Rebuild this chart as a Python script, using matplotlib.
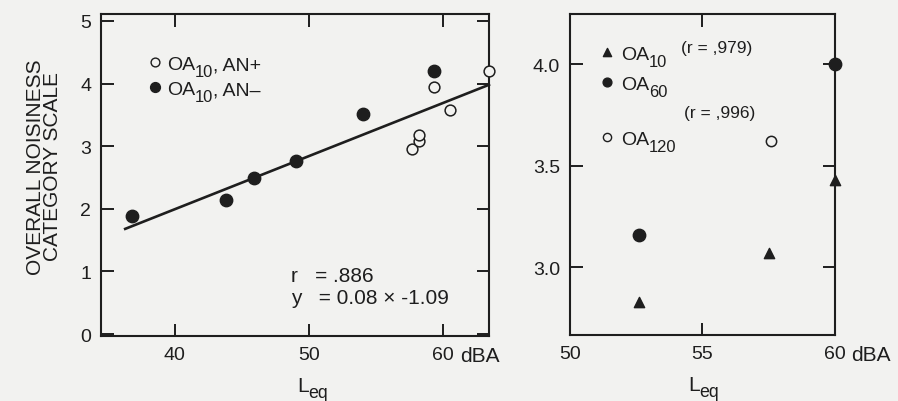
import matplotlib.pyplot as plt
from matplotlib import transforms

plt.rcParams['font.family'] = ['Liberation Sans', 'DejaVu Sans']

ink = '#1e1e1e'
bg = '#f2f2f0'

# left panel: OA10, AN- (filled) and AN+ (open)
an_minus_x = [36.8, 43.8, 45.9, 49.0, 54.0, 59.3]
an_minus_y = [1.88, 2.14, 2.49, 2.76, 3.52, 4.20]
an_plus_x = [57.7, 58.2, 58.2, 59.3, 60.5, 63.4]
an_plus_y = [2.96, 3.09, 3.18, 3.94, 3.57, 4.20]
fit_x = [36.3, 63.4]
fit_y = [1.68, 3.98]
left_xticks = [40, 50, 60]
left_yticks = [0, 1, 2, 3, 4, 5]

# right panel
oa10_x = [52.6, 57.5, 60.0]
oa10_y = [2.83, 3.07, 3.43]
oa60_x = [52.6, 60.0]
oa60_y = [3.16, 4.00]
oa120_x = [57.6]
oa120_y = [3.62]
right_xticks = [50, 55, 60]
right_yticks = [3.0, 3.5, 4.0]

fig = plt.figure(figsize=(8.98, 4.02), dpi=100, facecolor=bg)
ax1 = fig.add_axes([0.1125, 0.1617, 0.432, 0.801], facecolor=bg)
ax2 = fig.add_axes([0.6347, 0.1642, 0.295, 0.7985], facecolor=bg)
renderer = fig.canvas.get_renderer()


def sub_text(ax, x, y, parts, size=14, drop=4.5, subscale=0.85):
    # parts: list of (string, is_subscript); x, y = baseline start in axes coords
    for txt, is_sub in parts:
        if is_sub:
            tr = transforms.offset_copy(ax.transAxes, fig, y=-drop, units='points')
            fs = size * subscale
        else:
            tr = ax.transAxes
            fs = size
        t = ax.text(x, y, txt, transform=tr, fontsize=fs, color=ink,
                    va='baseline', ha='left', clip_on=False)
        bb = t.get_window_extent(renderer)
        x += bb.width / ax.bbox.width


for ax in (ax1, ax2):
    for s in ax.spines.values():
        s.set_linewidth(1.5)
        s.set_color(ink)
    ax.tick_params(direction='in', length=9, width=1.4, color=ink,
                   top=True, right=True, labelsize=14, labelcolor=ink, pad=7)

# ---- left
ax1.plot(fit_x, fit_y, color=ink, lw=1.9, clip_on=False)
ax1.scatter(an_minus_x, an_minus_y, s=80, color=ink, zorder=3, clip_on=False)
ax1.scatter(an_plus_x, an_plus_y, s=60, facecolor=bg, edgecolor=ink,
            linewidth=1.1, zorder=3, clip_on=False)
ax1.set_xlim(34.5, 63.4)
ax1.set_ylim(-0.03, 5.11)
ax1.set_xticks(left_xticks)
ax1.set_yticks(left_yticks)
ax1.set_ylabel('OVERALL NOISINESS\nCATEGORY SCALE', fontsize=15, color=ink,
               linespacing=0.88)
ax1.yaxis.set_label_coords(-0.1, 0.528)
ax1.annotate('dBA', xy=(60, 0), xycoords=ax1.get_xaxis_transform(),
             xytext=(12, -7), textcoords='offset points', ha='left', va='top',
             fontsize=15, color=ink, annotation_clip=False)
sub_text(ax1, 0.505, -0.17, [('L', False), ('eq', True)], size=15)

ax1.scatter([0.139], [0.85], s=40, facecolor=bg, edgecolor=ink, linewidth=1.0,
            transform=ax1.transAxes)
ax1.scatter([0.139], [0.772], s=50, color=ink, transform=ax1.transAxes)
sub_text(ax1, 0.17, 0.828, [('OA', False), ('10', True), (', AN+', False)])
sub_text(ax1, 0.17, 0.75, [('OA', False), ('10', True), (', AN\u2013', False)])
ax1.text(0.49, 0.187, 'r   = .886', transform=ax1.transAxes, fontsize=15,
         color=ink, va='center')
ax1.text(0.49, 0.12, 'y   = 0.08 × -1.09', transform=ax1.transAxes,
         fontsize=15, color=ink, va='center')

# ---- right
ax2.scatter(oa10_x, oa10_y, marker='^', s=55, color=ink, zorder=3, clip_on=False)
ax2.scatter(oa60_x, oa60_y, s=80, color=ink, zorder=3, clip_on=False)
ax2.scatter(oa120_x, oa120_y, s=55, facecolor=bg, edgecolor=ink,
            linewidth=1.1, zorder=3, clip_on=False)
ax2.set_xlim(50, 60)
ax2.set_ylim(2.667, 4.246)
ax2.set_xticks(right_xticks)
ax2.set_yticks(right_yticks)
ax2.set_yticklabels(['3.0', '3.5', '4.0'])
ax2.annotate('dBA', xy=(60, 0), xycoords=ax2.get_xaxis_transform(),
             xytext=(12, -7), textcoords='offset points', ha='left', va='top',
             fontsize=15, color=ink, annotation_clip=False)
sub_text(ax2, 0.445, -0.172, [('L', False), ('eq', True)], size=15)

ax2.scatter([0.14], [0.881], marker='^', s=35, color=ink, transform=ax2.transAxes)
ax2.scatter([0.14], [0.787], s=40, color=ink, transform=ax2.transAxes)
ax2.scatter([0.14], [0.616], s=35, facecolor=bg, edgecolor=ink, linewidth=1.0,
            transform=ax2.transAxes)
sub_text(ax2, 0.193, 0.859, [('OA', False), ('10', True)])
sub_text(ax2, 0.193, 0.765, [('OA', False), ('60', True)])
sub_text(ax2, 0.193, 0.594, [('OA', False), ('120', True)])
ax2.text(0.42, 0.896, '(r = ,979)', transform=ax2.transAxes, fontsize=12.5,
         color=ink, va='center')
ax2.text(0.43, 0.694, '(r = ,996)', transform=ax2.transAxes, fontsize=12.5,
         color=ink, va='center')

fig.savefig('out.png', dpi=100, facecolor=bg)
